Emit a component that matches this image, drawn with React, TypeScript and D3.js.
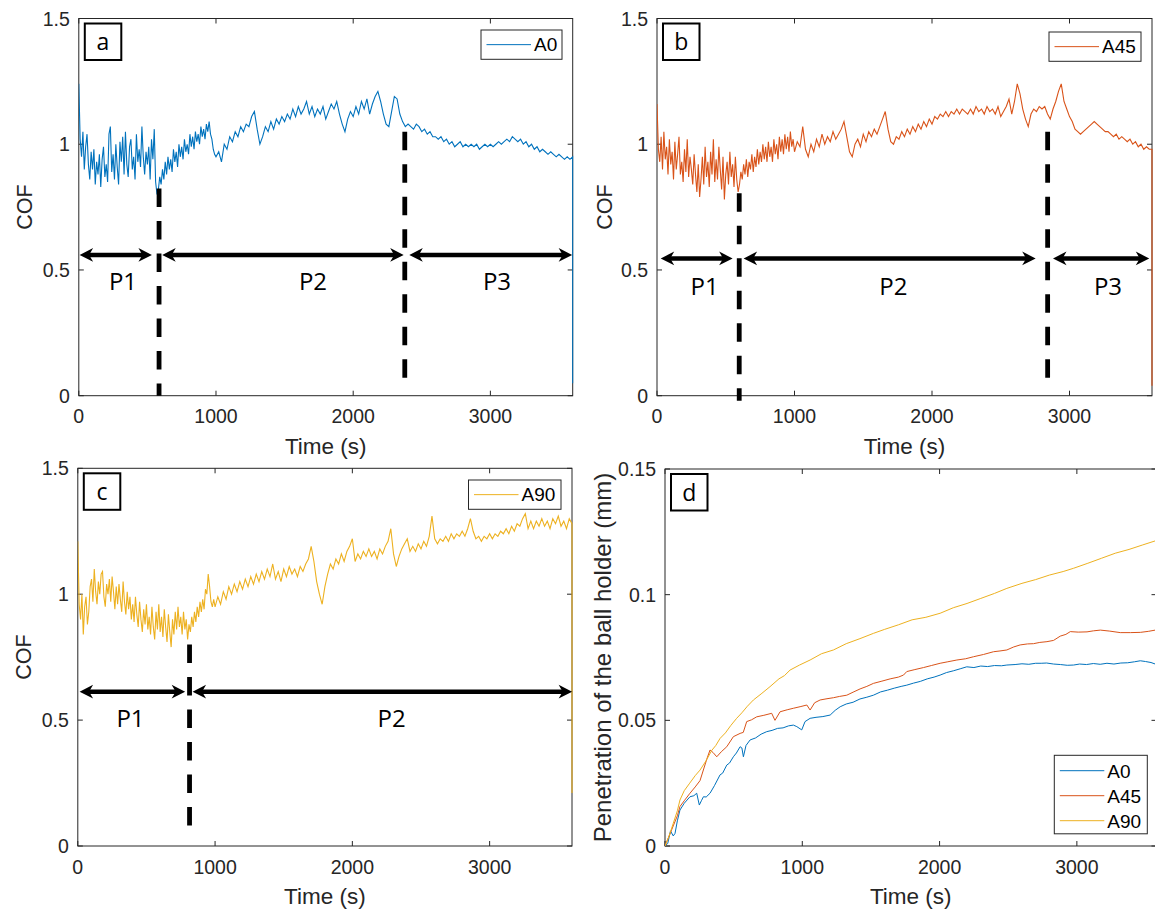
import * as d3 from "d3"

const W = 1155
const H = 913
const EARLY_STEP = 10 // s between COF samples for 0–990 s
const LATE_START = 1000
const LATE_STEP = 20 // s between COF samples for 1000–3600 s

const timeTicks = [0, 1000, 2000, 3000]
const cofTicks = [0, 0.5, 1, 1.5]
const penTicks = [0, 0.05, 0.1, 0.15]

const BLUE = "#0072BD"
const ORANGE = "#D95319"
const YELLOW = "#EDB120"
const AX = "#262626"
const MATLAB_FONT = "'Liberation Sans', Arial, Helvetica, sans-serif"
const NOTE_FONT = "'Open Sans', 'Noto Sans', sans-serif"

// COF traces: 0–990 s every 10 s, then 1000–3600 s every 20 s
const cofA0Early = [
  1.24, 1.02, 0.95, 1.05, 0.90, 0.99, 1.04, 0.92, 0.86, 0.97,
  0.90, 0.98, 0.84, 0.93, 0.88, 0.96, 0.83, 0.94, 0.99, 0.87,
  0.92, 0.85, 1.04, 1.07, 0.89, 0.96, 0.86, 1.00, 0.91, 0.84,
  1.01, 0.93, 1.03, 0.88, 1.05, 0.92, 0.87, 0.99, 1.02, 0.90,
  0.95, 0.86, 1.04, 0.93, 0.98, 0.91, 1.07, 0.95, 0.88, 0.97,
  0.92, 0.99, 0.86, 1.02, 0.94, 1.06, 0.85, 0.80, 0.82, 0.87,
  0.84, 0.90, 0.86, 0.93, 0.88, 0.95, 0.90, 0.94, 0.89, 0.98,
  0.93, 0.97, 0.91, 1.00, 0.95, 0.99, 0.94, 1.02, 0.97, 1.00,
  0.96, 1.04, 0.99, 1.03, 0.98, 1.05, 1.01, 1.04, 1.00, 1.07,
  1.03, 1.06, 1.02, 1.08, 1.05, 1.09, 1.04, 1.02, 0.98, 0.96,
]
const cofA0Late = [
  0.95, 0.97, 0.93, 1.00, 0.98, 1.03, 1.01, 1.05, 1.03, 1.07,
  1.05, 1.08, 1.07, 1.11, 1.13, 1.06, 1.00, 1.03, 1.07, 1.05,
  1.09, 1.06, 1.10, 1.08, 1.11, 1.09, 1.12, 1.10, 1.14, 1.11,
  1.15, 1.12, 1.14, 1.17, 1.12, 1.15, 1.11, 1.14, 1.12, 1.15,
  1.10, 1.13, 1.16, 1.14, 1.17, 1.12, 1.08, 1.05, 1.10, 1.13,
  1.11, 1.15, 1.12, 1.17, 1.14, 1.18, 1.12, 1.16, 1.19, 1.21,
  1.17, 1.12, 1.08, 1.07, 1.13, 1.19, 1.18, 1.12, 1.09, 1.07,
  1.08, 1.07, 1.06, 1.08, 1.07, 1.05, 1.06, 1.04, 1.05, 1.03,
  1.03, 1.02, 1.03, 1.01, 1.02, 1.00, 1.01, 0.99, 1.00, 1.01,
  0.99, 1.00, 0.99, 1.00, 0.99, 1.00, 0.98, 0.99, 1.00, 0.99,
  1.00, 0.99, 1.00, 1.01, 1.00, 1.01, 1.02, 1.01, 1.03, 1.02,
  1.01, 1.02, 1.00, 1.01, 0.99, 1.00, 0.98, 0.99, 0.97, 0.98,
  0.97, 0.96, 0.97, 0.96, 0.95, 0.96, 0.95, 0.94, 0.95, 0.94,
  0.95,
]
const cofA45Early = [
  1.16, 0.98, 0.93, 1.03, 0.90, 1.05, 0.94, 0.99, 0.88, 1.02,
  0.92, 0.97, 0.86, 1.01, 0.90, 0.96, 1.03, 0.88, 0.93, 0.85,
  0.98, 0.89, 1.02, 0.87, 0.95, 0.90, 0.84, 0.96, 0.88, 0.81,
  0.92, 0.79, 0.86, 0.95, 0.84, 0.99, 0.87, 0.93, 0.83, 0.97,
  0.88, 1.02, 0.85, 0.94, 0.86, 0.99, 0.90, 0.82, 0.95, 0.78,
  0.88, 0.93, 0.84, 0.97, 0.87, 0.92, 0.83, 0.95, 0.86, 0.81,
  0.84, 0.89, 0.86, 0.92, 0.88, 0.94, 0.87, 0.93, 0.90, 0.96,
  0.89, 0.95, 0.91, 0.98, 0.92, 0.97, 0.93, 1.00, 0.94, 0.99,
  0.93, 1.01, 0.95, 0.99, 0.93, 1.02, 0.96, 1.00, 0.94, 1.03,
  0.97, 1.02, 0.96, 1.04, 0.98, 1.03, 0.97, 1.05, 0.99, 1.02,
]
const cofA45Late = [
  0.97, 1.01, 0.99, 1.07, 0.98, 0.95, 1.00, 0.97, 1.02, 0.99,
  1.04, 1.00, 1.03, 1.01, 1.05, 1.02, 1.04, 1.06, 1.09, 1.03,
  0.97, 0.95, 1.00, 1.02, 0.99, 1.04, 1.01, 1.05, 1.03, 1.06,
  1.04, 1.07, 1.10, 1.13, 1.06, 1.01, 1.00, 1.03, 1.02, 1.05,
  1.03, 1.06, 1.04, 1.07, 1.05, 1.08, 1.06, 1.09, 1.07, 1.10,
  1.08, 1.11, 1.10, 1.12, 1.11, 1.13, 1.11, 1.13, 1.12, 1.14,
  1.12, 1.14, 1.13, 1.12, 1.14, 1.12, 1.15, 1.13, 1.14, 1.12,
  1.15, 1.13, 1.14, 1.12, 1.15, 1.11, 1.13, 1.15, 1.18, 1.12,
  1.17, 1.24, 1.20, 1.14, 1.10, 1.07, 1.12, 1.14, 1.13, 1.15,
  1.14, 1.15, 1.12, 1.10, 1.14, 1.17, 1.21, 1.24, 1.17, 1.14,
  1.11, 1.09, 1.06, 1.05, 1.04, 1.05, 1.06, 1.07, 1.08, 1.09,
  1.08, 1.07, 1.06, 1.05, 1.05, 1.04, 1.03, 1.04, 1.02, 1.03,
  1.02, 1.01, 1.02, 1.00, 1.01, 0.99, 1.00, 0.98, 0.99, 0.98,
  0.98,
]
const cofA90Early = [
  1.21, 0.96, 0.90, 1.00, 0.84, 0.95, 0.99, 0.88, 0.93, 1.03,
  1.06, 0.97, 1.10, 1.01, 0.96, 1.05, 1.00, 1.08, 1.09, 0.99,
  0.95, 1.04, 1.00, 1.06, 0.97, 1.07, 1.01, 0.94, 1.03, 0.96,
  1.04, 0.98, 0.93, 1.05, 0.97, 0.92, 1.01, 0.94, 0.99, 0.90,
  0.96, 0.89, 0.99, 0.92, 0.87, 0.97, 0.90, 0.85, 0.94, 0.88,
  0.96, 0.86, 0.91, 0.84, 0.95, 0.87, 0.82, 0.93, 0.86, 0.96,
  0.85, 0.91, 0.83, 0.94, 0.87, 0.81, 0.92, 0.85, 0.79, 0.90,
  0.84, 0.93, 0.86, 0.95, 0.87, 0.91, 0.84, 0.93, 0.86, 0.90,
  0.82, 0.88, 0.85, 0.91, 0.87, 0.93, 0.89, 0.95, 0.91, 0.97,
  0.93, 0.98, 0.94, 1.02, 1.00, 1.08, 1.03, 0.97, 0.95, 0.98,
]
const cofA90Late = [
  0.95, 0.99, 0.96, 1.01, 0.98, 1.03, 1.00, 1.04, 1.01, 1.05,
  1.02, 1.06, 1.03, 1.07, 1.04, 1.08, 1.05, 1.09, 1.06, 1.10,
  1.07, 1.12, 1.06, 1.09, 1.05, 1.10, 1.07, 1.11, 1.08, 1.10,
  1.07, 1.11, 1.09, 1.12, 1.14, 1.19, 1.13, 1.05, 1.00, 0.96,
  1.03, 1.08, 1.12, 1.10, 1.14, 1.12, 1.16, 1.13, 1.17, 1.19,
  1.22, 1.13, 1.16, 1.14, 1.17, 1.15, 1.18, 1.15, 1.17, 1.14,
  1.18, 1.16, 1.19, 1.21, 1.26, 1.16, 1.11, 1.15, 1.18, 1.20,
  1.22, 1.17, 1.19, 1.17, 1.20, 1.18, 1.21, 1.19, 1.23, 1.31,
  1.22, 1.20, 1.22, 1.21, 1.23, 1.21, 1.24, 1.22, 1.24, 1.23,
  1.25, 1.23, 1.26, 1.30, 1.25, 1.22, 1.23, 1.21, 1.23, 1.22,
  1.24, 1.22, 1.24, 1.23, 1.25, 1.24, 1.26, 1.24, 1.27, 1.25,
  1.28, 1.27, 1.30, 1.32, 1.26, 1.29, 1.26, 1.29, 1.27, 1.30,
  1.27, 1.29, 1.26, 1.30, 1.28, 1.31, 1.27, 1.29, 1.26, 1.30,
  1.28,
]
// each COF trace falls to this value on its very last sample
const cofDropA0 = 0.05
const cofDropA45 = 0.04
const cofDropA90 = 0.21

// penetration (mm) vs time (s)
const penA0: [number, number][] = [
  [0, 0], [20, 0.001], [40, 0.006], [60, 0.004], [73, 0.005], [90, 0.010], [109, 0.0143],
  [140, 0.017], [182, 0.0196], [210, 0.020], [231, 0.021], [250, 0.0163], [265, 0.018],
  [280, 0.0196], [300, 0.0195], [328, 0.021], [360, 0.024], [401, 0.0283], [420, 0.029],
  [450, 0.0322], [470, 0.033], [498, 0.0355], [520, 0.037], [547, 0.0395], [560, 0.039],
  [571, 0.0355], [590, 0.040], [620, 0.0422], [660, 0.043], [700, 0.0445], [741, 0.0455],
  [780, 0.046], [820, 0.0468], [860, 0.047], [900, 0.0478], [935, 0.0481], [960, 0.0475],
  [996, 0.0462], [1020, 0.0495], [1057, 0.0508], [1100, 0.0512], [1150, 0.0515],
  [1203, 0.0521], [1240, 0.054], [1276, 0.0554], [1320, 0.0565], [1370, 0.0572],
  [1420, 0.0585], [1470, 0.0592], [1518, 0.060], [1570, 0.0613], [1620, 0.062],
  [1670, 0.0628], [1720, 0.0635], [1761, 0.064], [1810, 0.0648], [1860, 0.0655],
  [1910, 0.0665], [1960, 0.0672], [2004, 0.068], [2050, 0.069], [2100, 0.0697],
  [2150, 0.0705], [2198, 0.0713], [2250, 0.071], [2300, 0.0716], [2350, 0.0714],
  [2400, 0.0718], [2450, 0.0717], [2490, 0.072], [2550, 0.0722], [2600, 0.0725],
  [2650, 0.0723], [2700, 0.0727], [2740, 0.0727], [2780, 0.0728], [2830, 0.0724],
  [2880, 0.0722], [2930, 0.0719], [2976, 0.072], [3020, 0.0724], [3070, 0.0722],
  [3120, 0.0726], [3170, 0.0723], [3219, 0.0727], [3270, 0.0724], [3320, 0.0728],
  [3370, 0.0729], [3420, 0.0733], [3462, 0.0737], [3500, 0.0734], [3540, 0.073],
  [3571, 0.0724], [3600, 0.072],
]
const penA45: [number, number][] = [
  [0, 0], [30, 0.004], [60, 0.008], [90, 0.012], [109, 0.0157], [140, 0.018], [182, 0.021],
  [220, 0.0235], [255, 0.026], [304, 0.0345], [328, 0.0382], [350, 0.0372], [377, 0.0355],
  [410, 0.0375], [450, 0.0395], [498, 0.0435], [547, 0.0448], [570, 0.0452], [595, 0.0495],
  [630, 0.0502], [668, 0.0514], [720, 0.052], [777, 0.0528], [801, 0.050], [838, 0.0534],
  [890, 0.0542], [935, 0.0548], [990, 0.0555], [1033, 0.0561], [1057, 0.0541], [1090, 0.057],
  [1130, 0.0581], [1180, 0.0586], [1227, 0.059], [1270, 0.0595], [1324, 0.060], [1370, 0.0612],
  [1421, 0.0625], [1470, 0.0635], [1518, 0.0647], [1580, 0.0656], [1640, 0.0665],
  [1700, 0.0672], [1737, 0.068], [1761, 0.0694], [1820, 0.0702], [1883, 0.071],
  [1940, 0.0718], [2004, 0.0727], [2060, 0.0733], [2126, 0.074], [2190, 0.0745],
  [2247, 0.0753], [2320, 0.0762], [2393, 0.0773], [2440, 0.0776], [2490, 0.078],
  [2540, 0.0792], [2587, 0.080], [2640, 0.0804], [2684, 0.0805], [2730, 0.081],
  [2782, 0.0813], [2830, 0.0818], [2879, 0.0835], [2920, 0.0842], [2952, 0.0853],
  [3010, 0.0851], [3074, 0.0852], [3120, 0.0856], [3171, 0.0859], [3240, 0.0855],
  [3316, 0.0849], [3390, 0.0849], [3462, 0.085], [3520, 0.0854], [3571, 0.0859],
  [3600, 0.0855],
]
const penA90: [number, number][] = [
  [0, 0], [30, 0.004], [60, 0.009], [90, 0.014], [109, 0.0183], [140, 0.022], [180, 0.025],
  [220, 0.028], [255, 0.0302], [300, 0.034], [340, 0.038], [370, 0.040], [401, 0.0428],
  [440, 0.045], [480, 0.048], [522, 0.0508], [560, 0.053], [600, 0.0556], [644, 0.0581],
  [700, 0.0605], [765, 0.0634], [830, 0.0665], [870, 0.0678], [911, 0.070], [980, 0.072],
  [1057, 0.074], [1140, 0.0765], [1227, 0.078], [1320, 0.0805], [1420, 0.0825],
  [1518, 0.0846], [1600, 0.0862], [1700, 0.088], [1800, 0.090], [1900, 0.091],
  [2004, 0.0926], [2100, 0.0948], [2200, 0.0965], [2300, 0.0985], [2400, 0.1005],
  [2490, 0.1025], [2600, 0.1045], [2700, 0.106], [2800, 0.1078], [2900, 0.1092],
  [2976, 0.1105], [3080, 0.1125], [3180, 0.1145], [3280, 0.1165], [3380, 0.118],
  [3480, 0.1198], [3571, 0.1214], [3600, 0.1218],
]

// phase annotations (time in s, COF units)
const dividersA = [{ t: 585, top: 0.824, bottom: 0 }, { t: 2376, top: 1.05, bottom: 0.05 }]
const spansA: [number, number][] = [[6, 533], [608, 2368], [2409, 3596]]
const phasesA = [{ t: 322, name: "P1" }, { t: 1707, name: "P2" }, { t: 3048, name: "P3" }]

const dividersB = [{ t: 598, top: 0.805, bottom: -0.02 }, { t: 2841, top: 1.05, bottom: 0.05 }]
const spansB: [number, number][] = [[27, 550], [630, 2754], [2880, 3580]]
const phasesB = [{ t: 346, name: "P1" }, { t: 1719, name: "P2" }, { t: 3280, name: "P3" }]

const dividersC = [{ t: 814, top: 0.8, bottom: 0.064 }]
const spansC: [number, number][] = [[13, 782], [836, 3601]]
const phasesC = [{ t: 384, name: "P1" }, { t: 2286, name: "P2" }]

type Pt = [number, number]
type Scale = d3.ScaleLinear<number, number>

const toPoints = (early: number[], late: number[], drop: number): Pt[] => {
  const pts: Pt[] = [
    ...early.map((v, i): Pt => [i * EARLY_STEP, v]),
    ...late.map((v, i): Pt => [LATE_START + i * LATE_STEP, v]),
  ]
  pts.push([pts[pts.length - 1][0], drop])
  return pts
}

function arrowHead(tip: number, y: number, dir: number) {
  const len = 13.5, half = 6.8, notch = 9.5
  return `M${tip},${y}L${tip - dir * len},${y - half}L${tip - dir * notch},${y}L${tip - dir * len},${y + half}Z`
}

function Axes(props: {
  id: string
  x: Scale
  y: Scale
  yTicks: number[]
  yLabel: string
  yLabelX: number
  yLabelSize?: number
  tag: string
  children?: any
  overlay?: any
}) {
  const { id, x, y, yTicks, yLabel, yLabelX, tag } = props
  const [x0, x1] = x.range()
  const [y0, y1] = y.range()
  const tk = 5
  return (
    <g>
      <defs>
        <clipPath id={id}>
          <rect x={x0} y={y1} width={x1 - x0 + 1} height={y0 - y1} />
        </clipPath>
      </defs>
      <rect x={x0} y={y1} width={x1 - x0} height={y0 - y1} fill="none" stroke={AX} strokeWidth={1} />
      {timeTicks.map(t => (
        <g key={"xt" + t}>
          <line x1={x(t)} x2={x(t)} y1={y0} y2={y0 - tk} stroke={AX} />
          <line x1={x(t)} x2={x(t)} y1={y1} y2={y1 + tk} stroke={AX} />
          <text x={x(t)} y={y0 + 27.5} textAnchor="middle" fontSize={19.5} fill={AX} fontFamily={MATLAB_FONT}>
            {t}
          </text>
        </g>
      ))}
      {yTicks.map(v => (
        <g key={"yt" + v}>
          <line x1={x0} x2={x0 + tk} y1={y(v)} y2={y(v)} stroke={AX} />
          <line x1={x1} x2={x1 - tk} y1={y(v)} y2={y(v)} stroke={AX} />
          <text x={x0 - 9} y={y(v)} dy="0.36em" textAnchor="end" fontSize={19.5} fill={AX} fontFamily={MATLAB_FONT}>
            {String(v)}
          </text>
        </g>
      ))}
      <text x={(x0 + x1) / 2} y={y0 + 58} textAnchor="middle" fontSize={22.5} fill={AX} fontFamily={MATLAB_FONT}>
        Time (s)
      </text>
      <text
        transform={`translate(${yLabelX},${(y0 + y1) / 2}) rotate(-90)`}
        textAnchor="middle"
        dy="0.35em"
        fontSize={props.yLabelSize ?? 21.5}
        fill={AX}
        fontFamily={MATLAB_FONT}
      >
        {yLabel}
      </text>
      <g clipPath={`url(#${id})`}>{props.children}</g>
      {props.overlay}
      <rect x={x0 + 6} y={y1 + 5} width={36.5} height={36.5} fill="#fff" stroke="#000" strokeWidth={2} />
      <text x={x0 + 24.2} y={y1 + 23.5} dy="0.35em" textAnchor="middle" fontSize={23} fill="#000" fontFamily={NOTE_FONT}>
        {tag}
      </text>
    </g>
  )
}

function Phases(props: {
  x: Scale
  y: Scale
  dividers: { t: number; top: number; bottom: number }[]
  spans: [number, number][]
  phases: { t: number; name: string }[]
  arrowAt: number
  labelAt: number
}) {
  const { x, y, dividers, spans, phases, arrowAt, labelAt } = props
  const ay = y(arrowAt)
  return (
    <g>
      {dividers.map(d => (
        <line
          key={"d" + d.t}
          x1={x(d.t)}
          x2={x(d.t)}
          y1={y(d.top)}
          y2={y(d.bottom)}
          stroke="#000"
          strokeWidth={4.8}
          strokeDasharray="18.5,14"
        />
      ))}
      {spans.map(([a, b]) => (
        <g key={"s" + a}>
          <line x1={x(a) + 8} x2={x(b) - 8} y1={ay} y2={ay} stroke="#000" strokeWidth={4.5} />
          <path d={arrowHead(x(a), ay, -1)} fill="#000" />
          <path d={arrowHead(x(b), ay, 1)} fill="#000" />
        </g>
      ))}
      {phases.map(p => (
        <text key={p.name} x={x(p.t)} y={y(labelAt)} textAnchor="middle" fontSize={24} fill="#000" fontFamily={NOTE_FONT}>
          {p.name}
        </text>
      ))}
    </g>
  )
}

function Legend(props: { x: number; y: number; w: number; items: { name: string; color: string }[] }) {
  const { x, y, w, items } = props
  const rowH = 25
  const h = items.length === 1 ? 29.3 : items.length * rowH + 3.5
  return (
    <g>
      <rect x={x} y={y} width={w} height={h} fill="#fff" stroke={AX} strokeWidth={1} />
      {items.map((it, i) => {
        const cy = items.length === 1 ? y + h / 2 : y + 15.4 + i * rowH
        return (
          <g key={it.name}>
            <line x1={x + 5.5} x2={x + 50} y1={cy} y2={cy} stroke={it.color} strokeWidth={1} />
            <text x={x + 53} y={cy} dy="0.36em" fontSize={19} fill="#000" fontFamily={MATLAB_FONT}>
              {it.name}
            </text>
          </g>
        )
      })}
    </g>
  )
}

export default function App() {
  const cofY = (bottom: number, top: number) => d3.scaleLinear().domain([0, 1.5]).range([bottom, top])
  const timeX = (l: number, r: number, max = 3600) => d3.scaleLinear().domain([0, max]).range([l, r])

  const xa = timeX(78.8, 572.7), ya = cofY(395.7, 18.5)
  const xb = timeX(657, 1152), yb = cofY(395.7, 18.5)
  const xc = timeX(77.8, 572), yc = cofY(846, 468.3)
  const xd = timeX(665, 1156.5, 3580)
  const yd = d3.scaleLinear().domain([0, 0.15]).range([846, 469])

  const trace = (x: Scale, y: Scale) => d3.line<Pt>().x(p => x(p[0])).y(p => y(p[1]))

  return (
    <svg
      width={W}
      height={H}
      viewBox={`0 0 ${W} ${H}`}
      style={{ position: "absolute", left: 0, top: 0, background: "#fff" }}
    >
      <rect width={W} height={H} fill="#fff" />

      <Axes
        id="clipA"
        x={xa}
        y={ya}
        yTicks={cofTicks}
        yLabel="COF"
        yLabelX={24}
        tag="a"
        overlay={
          <g>
            <Phases x={xa} y={ya} dividers={dividersA} spans={spansA} phases={phasesA} arrowAt={0.56} labelAt={0.42} />
            <Legend x={481} y={30} w={81} items={[{ name: "A0", color: BLUE }]} />
          </g>
        }
      >
        <path d={trace(xa, ya)(toPoints(cofA0Early, cofA0Late, cofDropA0)) || ""} fill="none" stroke={BLUE} strokeWidth={1.1} />
      </Axes>

      <Axes
        id="clipB"
        x={xb}
        y={yb}
        yTicks={cofTicks}
        yLabel="COF"
        yLabelX={604}
        tag="b"
        overlay={
          <g>
            <Phases x={xb} y={yb} dividers={dividersB} spans={spansB} phases={phasesB} arrowAt={0.546} labelAt={0.4} />
            <Legend x={1049} y={32} w={92} items={[{ name: "A45", color: ORANGE }]} />
          </g>
        }
      >
        <path d={trace(xb, yb)(toPoints(cofA45Early, cofA45Late, cofDropA45)) || ""} fill="none" stroke={ORANGE} strokeWidth={1.1} />
      </Axes>

      <Axes
        id="clipC"
        x={xc}
        y={yc}
        yTicks={cofTicks}
        yLabel="COF"
        yLabelX={23}
        tag="c"
        overlay={
          <g>
            <Phases x={xc} y={yc} dividers={dividersC} spans={spansC} phases={phasesC} arrowAt={0.613} labelAt={0.474} />
            <Legend x={468.5} y={480} w={92.5} items={[{ name: "A90", color: YELLOW }]} />
          </g>
        }
      >
        <path d={trace(xc, yc)(toPoints(cofA90Early, cofA90Late, cofDropA90)) || ""} fill="none" stroke={YELLOW} strokeWidth={1.1} />
      </Axes>

      <Axes
        id="clipD"
        x={xd}
        y={yd}
        yTicks={penTicks}
        yLabel="Penetration of the ball holder (mm)"
        yLabelX={603}
        yLabelSize={24}
        tag="d"
        overlay={
          <Legend
            x={1054.3}
            y={755.3}
            w={93}
            items={[
              { name: "A0", color: BLUE },
              { name: "A45", color: ORANGE },
              { name: "A90", color: YELLOW },
            ]}
          />
        }
      >
        <path d={trace(xd, yd)(penA0) || ""} fill="none" stroke={BLUE} strokeWidth={1} />
        <path d={trace(xd, yd)(penA45) || ""} fill="none" stroke={ORANGE} strokeWidth={1} />
        <path d={trace(xd, yd)(penA90) || ""} fill="none" stroke={YELLOW} strokeWidth={1} />
      </Axes>
    </svg>
  )
}
